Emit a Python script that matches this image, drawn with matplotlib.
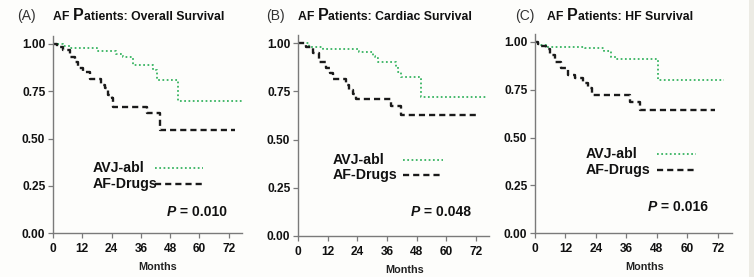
import matplotlib
matplotlib.use("Agg")
import matplotlib.pyplot as plt

plt.rcParams["font.family"] = ["Liberation Sans", "DejaVu Sans"]

# ---- data -------------------------------------------------------------------
panel_tags = ["(A)", "(B)", "(C)"]
panel_names = ["Overall Survival", "Cardiac Survival", "HF Survival"]
p_values = ["0.010", "0.048", "0.016"]

avj_t = [
    [0, 4.2, 7, 17.9, 26, 28.8, 32.9, 41.1, 42.5, 51.4, 77.3],
    [0, 4.6, 10, 24.8, 30.2, 31.0, 32.3, 39.7, 40.5, 41.7, 49.8, 76.0],
    [0, 1.0, 2.5, 4.5, 19.7, 27.0, 30.0, 32.0, 48.4, 74.4],
]
avj_s = [
    [1.0, 0.987, 0.977, 0.963, 0.948, 0.93, 0.89, 0.865, 0.81, 0.70, 0.70],
    [1.0, 0.981, 0.969, 0.955, 0.935, 0.92, 0.903, 0.877, 0.85, 0.823, 0.722, 0.722],
    [1.0, 0.99, 0.985, 0.975, 0.966, 0.952, 0.923, 0.91, 0.80, 0.80],
]
drug_t = [
    [0, 1.5, 4.2, 7, 9, 10.4, 12.4, 15.2, 19.5, 21.3, 22.7, 24, 24.7, 38.4, 43.9, 74.6],
    [0, 3.2, 5.9, 8.6, 11.3, 13.0, 14.3, 19.4, 20.8, 22.3, 23.5, 37.7, 41.7, 72.0],
    [0, 1.0, 2.5, 4.5, 5.8, 7.7, 10.4, 13, 15.6, 18.9, 20.9, 22.6, 37.3, 41.2, 70.8],
]
drug_s = [
    [1.0, 0.986, 0.968, 0.933, 0.906, 0.871, 0.853, 0.815, 0.785, 0.766, 0.73, 0.713, 0.667, 0.633, 0.547, 0.547],
    [1.0, 0.981, 0.946, 0.903, 0.869, 0.843, 0.813, 0.782, 0.756, 0.735, 0.71, 0.675, 0.625, 0.625],
    [1.0, 0.99, 0.98, 0.965, 0.932, 0.897, 0.862, 0.827, 0.813, 0.784, 0.758, 0.725, 0.688, 0.645, 0.645],
]

x_ticks = [0, 12, 24, 36, 48, 60, 72]
y_ticks = [0.0, 0.25, 0.5, 0.75, 1.0]

GREEN = "#45b96c"
AXIS_GREY = "#7a7a7a"
W, H = 754, 277

# axes boxes in pixels: (left, y of zero line, px per month, px per unit)
boxes = [(53, 233, 2.44, 189), (298, 236, 2.47, 193), (535, 233, 2.54, 191)]
XMAX, YMAX = 77.5, 1.042
# legend / p-value anchors in data units
leg_xy = [(16.4, 0.344, 41.8, 61.5), (14.0, 0.394, 42.4, 58.6), (20.0, 0.414, 47.9, 63.4)]
leg_dy = [0.084, 0.078, 0.084]
p_xy = [(46.7, 0.111), (45.7, 0.126), (44.4, 0.138)]
title_x = [(17, 53), (266, 298), (515, 547)]

fig = plt.figure(figsize=(W / 100, H / 100), dpi=100)
fig.patch.set_facecolor("#fdfdfb")
# thin grey strip along right edge of the scanned figure
fig.patches.append(plt.Rectangle((749 / W, 0), 5 / W, 1, transform=fig.transFigure,
                                 facecolor="#ecebe4", edgecolor="none"))

for i in range(3):
    left, y0, pxm, pxu = boxes[i]
    ax = fig.add_axes([left / W, (H - y0) / H, XMAX * pxm / W, YMAX * pxu / H])
    ax.set_facecolor("none")

    ax.step(avj_t[i], avj_s[i], where="post", color=GREEN, lw=1.4,
            linestyle=(0, (0.9, 1.3)))
    ax.step(drug_t[i], drug_s[i], where="post", color="#1a1a1a", lw=1.7,
            linestyle=(0, (2.6, 1.7)))

    ax.set_xlim(0, XMAX)
    ax.set_ylim(0, YMAX)
    ax.set_xticks(x_ticks)
    ax.set_yticks(y_ticks)
    ax.set_yticklabels([f"{v:.2f}" for v in y_ticks])
    for s in ("top", "right"):
        ax.spines[s].set_visible(False)
    for s in ("left", "bottom"):
        ax.spines[s].set_color(AXIS_GREY)
        ax.spines[s].set_linewidth(1.0)
    ax.tick_params(axis="both", colors=AXIS_GREY, length=3.5, width=0.9,
                   labelsize=8.6, labelcolor="#111111")
    ax.tick_params(axis="x", pad=4)
    ax.tick_params(axis="y", pad=2)
    for lab in ax.get_xticklabels() + ax.get_yticklabels():
        lab.set_fontweight("bold")
    ax.set_xlabel("Months", fontsize=7.8, fontweight="bold", color="#222222")
    ax.xaxis.set_label_coords(43 / XMAX, -0.145)

    # legend drawn by hand: label on the left, line sample on the right
    lx, ly, sx0, sx1 = leg_xy[i]
    ax.text(lx, ly, "AVJ-abl", fontsize=10.2, fontweight="bold", va="center",
            color="#111111")
    ax.text(lx, ly - leg_dy[i], "AF-Drugs", fontsize=10.2, fontweight="bold",
            va="center", color="#111111")
    ax.plot([sx0, sx1], [ly, ly], color=GREEN, lw=1.4, linestyle=(0, (0.9, 1.3)))
    ax.plot([sx0, sx1], [ly - leg_dy[i]] * 2, color="#1a1a1a", lw=1.7,
            linestyle=(0, (2.6, 1.7)))

    px, py = p_xy[i]
    tp = ax.text(px, py, "P", fontsize=10, fontweight="bold", style="italic",
                 va="center", color="#111111")
    ax.annotate(" = " + p_values[i], xy=(1, 0.5), xycoords=tp, va="center",
                fontsize=10, fontweight="bold", color="#111111")

    # panel title: "(A)  AF Patients: ..." with the enlarged P
    tx0, tx1 = title_x[i]
    fig.text(tx0 / W, 1 - 20 / H, panel_tags[i], fontsize=10, color="#333333",
             va="baseline")
    t1 = fig.text(tx1 / W, 1 - 20 / H, "AF ", fontsize=8.8, fontweight="bold",
                  va="baseline", color="#111111")
    t2 = fig.text(0, 0, "P", fontsize=11.5, fontweight="bold", va="baseline",
                  color="#111111")
    t3 = fig.text(0, 0, "atients: " + panel_names[i], fontsize=8.8,
                  fontweight="bold", va="baseline", color="#111111")
    fig.canvas.draw()
    r = fig.canvas.get_renderer()
    b1 = t1.get_window_extent(r)
    t2.set_position((b1.x1 / W, 1 - 20 / H))
    b2 = t2.get_window_extent(r)
    t3.set_position((b2.x1 / W, 1 - 20 / H))

fig.savefig("out.png", dpi=100, facecolor=fig.get_facecolor())
